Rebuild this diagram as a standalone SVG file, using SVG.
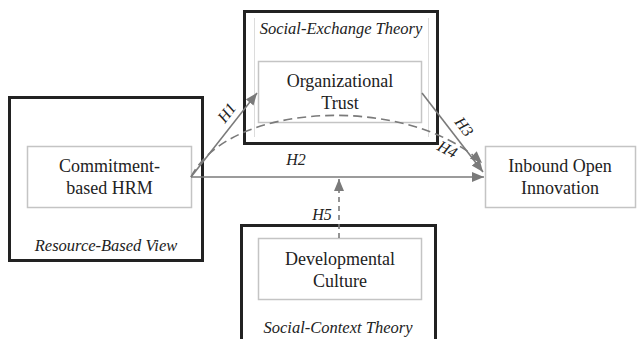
<svg xmlns="http://www.w3.org/2000/svg" width="637" height="339" viewBox="0 0 637 339">
<defs>
<marker id="ah" markerUnits="userSpaceOnUse" markerWidth="14" markerHeight="12" refX="12" refY="5" orient="auto">
<path d="M0,0 L12,5 L0,10 Z" fill="#7a7a7a"/>
</marker>
</defs>
<rect width="637" height="339" fill="#fff"/>
<g id="rbv">
<rect x="9.5" y="97.5" width="193" height="163" fill="none" stroke="#222" stroke-width="3"/>
<text font-family="Liberation Serif" font-size="16.5" font-style="italic" fill="#222" text-anchor="middle" x="106" y="251">Resource-Based View</text>
</g>
<g id="set">
<rect x="244.5" y="11.5" width="193" height="132" fill="none" stroke="#222" stroke-width="3"/>
<line x1="254.5" y1="18" x2="254.5" y2="137" stroke="#dcdcdc" stroke-width="1"/>
<line x1="428.5" y1="18" x2="428.5" y2="137" stroke="#dcdcdc" stroke-width="1"/>
<text font-family="Liberation Serif" font-size="16.5" font-style="italic" fill="#222" text-anchor="middle" x="341" y="34">Social-Exchange Theory</text>
</g>
<g id="sct">
<path d="M241.5,345 V225.5 H435.5 V345" fill="none" stroke="#222" stroke-width="3"/>
<text font-family="Liberation Serif" font-size="16.5" font-style="italic" fill="#222" text-anchor="middle" x="338" y="333">Social-Context Theory</text>
</g>
<g id="hrm">
<rect x="27.5" y="146.5" width="164" height="61" fill="#fff" stroke="#c4c4c4" stroke-width="1.5"/>
<text font-family="Liberation Serif" font-size="18" fill="#222" text-anchor="middle" x="109.5" y="172">Commitment-</text>
<text font-family="Liberation Serif" font-size="18" fill="#222" text-anchor="middle" x="109.5" y="194">based HRM</text>
</g>
<g id="trust">
<rect x="258.5" y="61.5" width="163" height="61" fill="#fff" stroke="#c4c4c4" stroke-width="1.5"/>
<text font-family="Liberation Serif" font-size="18" fill="#222" text-anchor="middle" x="340" y="87">Organizational</text>
<text font-family="Liberation Serif" font-size="18" fill="#222" text-anchor="middle" x="340" y="109">Trust</text>
</g>
<g id="culture">
<rect x="258.5" y="238.5" width="163" height="61" fill="#fff" stroke="#c4c4c4" stroke-width="1.5"/>
<text font-family="Liberation Serif" font-size="18" fill="#222" text-anchor="middle" x="340" y="265">Developmental</text>
<text font-family="Liberation Serif" font-size="18" fill="#222" text-anchor="middle" x="340" y="287">Culture</text>
</g>
<g id="oi">
<rect x="485.5" y="146.5" width="150" height="61" fill="#fff" stroke="#c4c4c4" stroke-width="1.5"/>
<text font-family="Liberation Serif" font-size="18" fill="#222" text-anchor="middle" x="560" y="172">Inbound Open</text>
<text font-family="Liberation Serif" font-size="18" fill="#222" text-anchor="middle" x="560" y="194">Innovation</text>
</g>
<g id="connectors" fill="none" stroke="#7a7a7a" stroke-width="1.6">
<line x1="191" y1="177" x2="257" y2="93" marker-end="url(#ah)"/>
<line x1="191" y1="177" x2="484" y2="177" marker-end="url(#ah)"/>
<line x1="422" y1="93" x2="483" y2="172" marker-end="url(#ah)"/>
<path d="M191,177 C230,100 410,95 482,163" stroke-dasharray="9,5" marker-end="url(#ah)"/>
<line x1="339" y1="238" x2="339" y2="179" stroke-dasharray="5,4" marker-end="url(#ah)"/>
<text font-family="Liberation Serif" font-size="16" font-style="italic" fill="#222" stroke="none" text-anchor="middle" transform="translate(231,116) rotate(-52)">H1</text>
<text font-family="Liberation Serif" font-size="16" font-style="italic" fill="#222" stroke="none" text-anchor="middle" x="296" y="165">H2</text>
<text font-family="Liberation Serif" font-size="16" font-style="italic" fill="#222" stroke="none" text-anchor="middle" transform="translate(460,130) rotate(52)">H3</text>
<text font-family="Liberation Serif" font-size="16" font-style="italic" fill="#222" stroke="none" text-anchor="middle" transform="translate(445,154) rotate(28)">H4</text>
<text font-family="Liberation Serif" font-size="16" font-style="italic" fill="#222" stroke="none" text-anchor="middle" x="322" y="220">H5</text>
</g>
</svg>
